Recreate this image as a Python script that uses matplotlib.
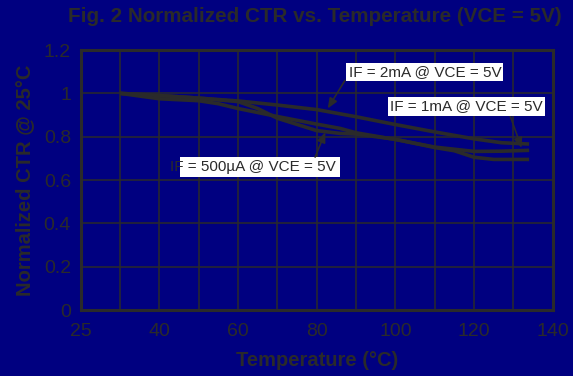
import matplotlib
matplotlib.use("Agg")
import matplotlib.pyplot as plt
from matplotlib.patches import Rectangle

plt.rcParams['font.family'] = ['Liberation Sans', 'DejaVu Sans']

NAVY = "#000080"
INK = "#2a2a2a"

# Normalized CTR readings per forward current
temp_2ma = [30, 40, 50, 60, 70, 80, 90, 100, 110, 120, 127, 134]
ctr_2ma = [1.0, 0.99, 0.978, 0.965, 0.946, 0.925, 0.892, 0.856, 0.822, 0.790, 0.772, 0.766]

temp_1ma = [30, 40, 50, 55, 60, 70, 80, 86, 90, 100, 110, 120, 127, 134]
ctr_1ma = [1.0, 0.975, 0.966, 0.952, 0.930, 0.893, 0.858, 0.838, 0.818, 0.787, 0.752, 0.732, 0.733, 0.737]

temp_500ua = [30, 40, 50, 60, 65, 70, 80, 86, 90, 100, 110, 115, 120, 125, 134]
ctr_500ua = [1.0, 0.99, 0.978, 0.962, 0.93, 0.885, 0.828, 0.815, 0.812, 0.788, 0.750, 0.735, 0.705, 0.695, 0.695]

x_ticks = [20, 40, 60, 80, 100, 120, 140]
x_tick_labels = ["25", "40", "60", "80", "100", "120", "140"]
y_ticks = [0, 0.2, 0.4, 0.6, 0.8, 1.0, 1.2]
y_tick_labels = ["0", "0.2", "0.4", "0.6", "0.8", "1", "1.2"]

fig = plt.figure(figsize=(5.73, 3.76), dpi=100, facecolor=NAVY)
ax = fig.add_axes([0.1408, 0.1755, 0.8238, 0.6915], facecolor=NAVY)

for xs, ys in [(temp_2ma, ctr_2ma), (temp_1ma, ctr_1ma), (temp_500ua, ctr_500ua)]:
    ax.plot(xs, ys, color=INK, lw=2.6, solid_capstyle="butt", zorder=3)

ax.set_xlim(20, 140)
ax.set_ylim(0, 1.2)
ax.set_xticks(x_ticks)
ax.set_xticklabels(x_tick_labels)
ax.set_xticks(range(30, 140, 20), minor=True)
ax.set_yticks(y_ticks)
ax.set_yticklabels(y_tick_labels)
ax.grid(True, which="both", color=INK, lw=1.1, zorder=1)
ax.tick_params(which="both", length=0, colors=INK, labelsize=14)
ax.tick_params(axis="x", pad=9)
ax.tick_params(axis="y", pad=7)
for sp in ax.spines.values():
    sp.set_color(INK)
    sp.set_linewidth(2.2)
    sp.set_zorder(4)

ax.set_xlabel("Temperature (\u00b0C)", fontsize=14.5, fontweight="bold", color=INK, labelpad=8)
ax.set_ylabel("Normalized CTR @ 25\u00b0C", fontsize=14.5, fontweight="bold", color=INK, labelpad=7)
fig.text(0.981, 0.957, "Fig. 2 Normalized CTR vs. Temperature (VCE = 5V)",
         ha="right", va="center", fontsize=14.9, fontweight="bold", color=INK)

# callouts
box = dict(boxstyle="square,pad=0.15", fc="white", ec="none")
ax.text(107.5, 1.098, "IF = 2mA @ VCE = 5V", ha="center", va="center",
        fontsize=11, color=INK, bbox=box, zorder=6)
ax.text(118.0, 0.940, "IF = 1mA @ VCE = 5V", ha="center", va="center",
        fontsize=11, color=INK, bbox=box, zorder=6)
ax.add_patch(Rectangle((45.25, 0.615), 40.65, 0.09, fc="white", ec="none", zorder=5))
ax.text(42.7, 0.66, "IF = 500\u00b5A @ VCE = 5V", ha="left", va="center",
        fontsize=11, color=INK, zorder=6)

arrow = dict(arrowstyle="-|>,head_length=0.6,head_width=0.25", color=INK, lw=1.2,
             shrinkA=0, shrinkB=0)
ax.annotate("", xy=(82.8, 0.93), xytext=(87.2, 1.06), arrowprops=arrow, zorder=5)
ax.annotate("", xy=(132.1, 0.748), xytext=(129.1, 0.90), arrowprops=arrow, zorder=5)
ax.annotate("", xy=(82.2, 0.821), xytext=(79.6, 0.706), arrowprops=arrow, zorder=5)

fig.savefig("out.png", dpi=100, facecolor=NAVY)
